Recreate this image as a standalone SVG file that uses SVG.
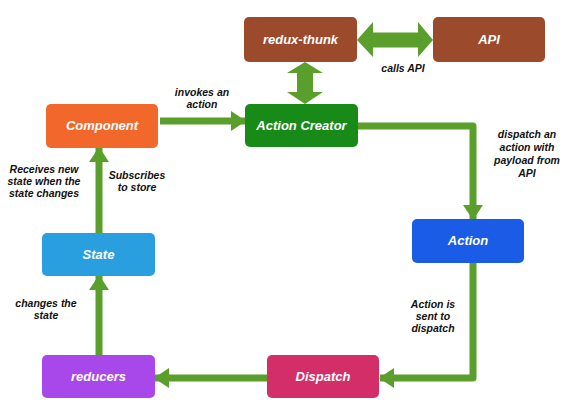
<svg xmlns="http://www.w3.org/2000/svg" width="568" height="411" viewBox="0 0 568 411">
<style>
.node rect{rx:5;ry:5}
.nt{font-family:"Liberation Sans",Arial,sans-serif;font-weight:bold;font-style:italic;font-size:13px;fill:#fff;text-anchor:middle}
.lbl{font-family:"Liberation Sans",Arial,sans-serif;font-weight:bold;font-style:italic;font-size:10.5px;fill:#111;text-anchor:middle}
.conn{fill:none;stroke:#5a9e2c;stroke-width:7;stroke-linejoin:round}
.big{fill:#5a9e2c}
</style>
<defs>
<marker id="ah" markerUnits="userSpaceOnUse" markerWidth="15" markerHeight="20" refX="14" refY="10" orient="auto">
<path d="M0,0 L15,10 L0,20 Z" fill="#5a9e2c"/>
</marker>
</defs>
<rect width="568" height="411" fill="#fff"/>
<g id="connectors">
<path class="big" d="M357,40 L373,22 L373,32.5 L418,32.5 L418,22 L433,40 L418,57 L418,47.5 L373,47.5 L373,57 Z"/>
<path class="big" d="M305,62 L323,73 L313,73 L313,92 L323,92 L305,104 L287,92 L297,92 L297,73 L287,73 Z"/>
<path class="conn" marker-end="url(#ah)" d="M160,121 L245,121"/>
<path class="conn" marker-end="url(#ah)" d="M358,126 L473,126 L473,219"/>
<path class="conn" marker-end="url(#ah)" d="M473,263 L473,378 L380,378"/>
<path class="conn" marker-end="url(#ah)" d="M267,378 L155,378"/>
<path class="conn" marker-end="url(#ah)" d="M99,355 L99,276"/>
<path class="conn" marker-end="url(#ah)" d="M99,233 L99,148"/>
</g>
<g id="redux-thunk" class="node"><rect x="244" y="17" width="113" height="45" fill="#9b4a2c"/><text class="nt" x="300.5" y="44">redux-thunk</text></g>
<g id="api" class="node"><rect x="433" y="17" width="112" height="45" fill="#9b4a2c"/><text class="nt" x="489" y="44">API</text></g>
<g id="action-creator" class="node"><rect x="245" y="104" width="113" height="43" fill="#178a17"/><text class="nt" x="301.5" y="130">Action Creator</text></g>
<g id="component" class="node"><rect x="46" y="104" width="112" height="44" fill="#f2672a"/><text class="nt" x="102" y="130">Component</text></g>
<g id="action" class="node"><rect x="412" y="219" width="112" height="44" fill="#1a5ce6"/><text class="nt" x="468" y="245">Action</text></g>
<g id="dispatch" class="node"><rect x="267" y="355" width="112" height="43" fill="#d42e68"/><text class="nt" x="323" y="381">Dispatch</text></g>
<g id="reducers" class="node"><rect x="42" y="355" width="113" height="43" fill="#a848ea"/><text class="nt" x="98.5" y="381">reducers</text></g>
<g id="state" class="node"><rect x="42" y="233" width="113" height="43" fill="#2a9fe0"/><text class="nt" x="98.5" y="259">State</text></g>
<g id="labels">
<text class="lbl" x="403" y="72">calls API</text>
<text class="lbl" x="202" y="96">invokes an</text>
<text class="lbl" x="202" y="108">action</text>
<text class="lbl" x="527" y="138">dispatch an</text>
<text class="lbl" x="527" y="151">action with</text>
<text class="lbl" x="527" y="164">payload from</text>
<text class="lbl" x="527" y="177">API</text>
<text class="lbl" x="433" y="308">Action is</text>
<text class="lbl" x="433" y="320">sent to</text>
<text class="lbl" x="433" y="332">dispatch</text>
<text class="lbl" x="44" y="173">Receives new</text>
<text class="lbl" x="44" y="185">state when the</text>
<text class="lbl" x="44" y="197">state changes</text>
<text class="lbl" x="137" y="179">Subscribes</text>
<text class="lbl" x="137" y="191">to store</text>
<text class="lbl" x="46" y="307">changes the</text>
<text class="lbl" x="46" y="319">state</text>
</g>
</svg>
